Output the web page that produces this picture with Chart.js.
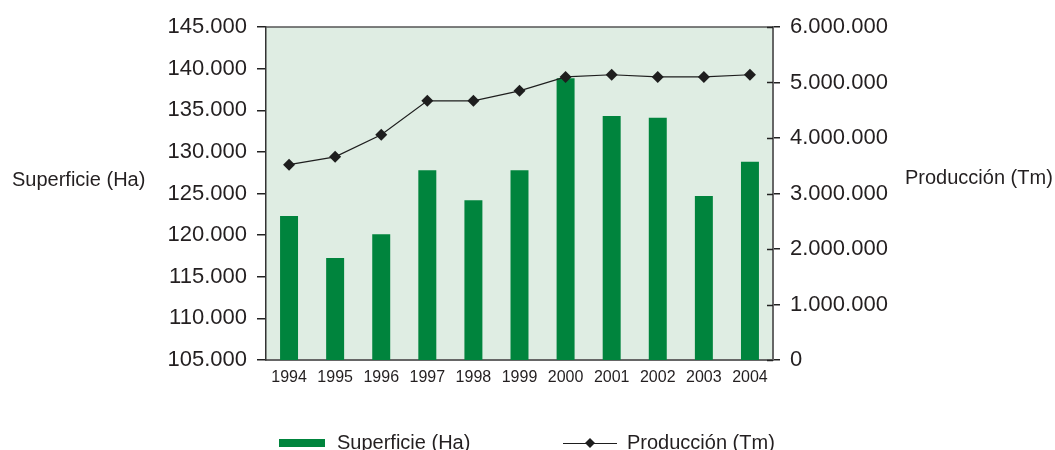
<!DOCTYPE html>
<html>
<head>
<meta charset="utf-8">
<script src="https://cdn.jsdelivr.net/npm/chart.js@4/dist/chart.umd.min.js"></script>
<style>
  html, body { margin: 0; padding: 0; background: #fff; overflow: hidden; }
  #wrap { width: 1055px; height: 450px; position: relative; }
</style>
</head>
<body>
<div id="wrap"><canvas id="chart"></canvas></div>
<script>
const years = ['1994', '1995', '1996', '1997', '1998', '1999', '2000', '2001', '2002', '2003', '2004'];
const superficie = [122300, 117250, 120100, 127800, 124200, 127800, 138850, 134300, 134100, 124700, 128800];
const produccion = [3520000, 3660000, 4060000, 4670000, 4670000, 4850000, 5100000, 5140000, 5100000, 5100000, 5140000];

const leftTitle = 'Superficie (Ha)';
const rightTitle = 'Producción (Tm)';

const FONT = "'Liberation Sans', Arial, sans-serif";
const TEXT = '#231f20';
const GREEN = '#00843d';
const LINE = '#1e1e1e';

function fmt(v) {
    return String(v).replace(/\B(?=(\d{3})+(?!\d))/g, '.');
}

// fondo del area, borde superior, ticks interiores del eje derecho, titulos y leyenda
const extras = {
    id: 'extras',
    beforeDraw(chart) {
        const {ctx, chartArea: a} = chart;
        ctx.save();
        ctx.fillStyle = '#dfede3';
        ctx.fillRect(a.left, a.top, a.right - a.left, a.bottom - a.top);
        ctx.restore();
    },
    afterDraw(chart) {
        const {ctx, chartArea: a} = chart;
        const y1 = chart.scales.y1;
        ctx.save();
        ctx.strokeStyle = '#555';
        ctx.lineWidth = 1.5;
        ctx.beginPath();
        ctx.moveTo(a.left, a.top);
        ctx.lineTo(a.right, a.top);
        ctx.stroke();

        ctx.strokeStyle = '#222';
        ctx.lineWidth = 1.5;
        y1.ticks.forEach(t => {
            const py = Math.round(y1.getPixelForValue(t.value)) + 0.5;
            ctx.beginPath();
            ctx.moveTo(a.right - 6, py);
            ctx.lineTo(a.right, py);
            ctx.stroke();
        });

        ctx.fillStyle = TEXT;
        ctx.font = '20px ' + FONT;
        ctx.textBaseline = 'alphabetic';
        ctx.textAlign = 'left';
        ctx.fillText(leftTitle, 12, 186);
        ctx.fillText(rightTitle, 905, 184);

        // leyenda
        const ly = 443;
        ctx.fillStyle = GREEN;
        ctx.fillRect(279, ly - 4, 46, 8);
        ctx.fillStyle = TEXT;
        ctx.fillText(chart.data.datasets[0].label, 337, 449);

        ctx.strokeStyle = LINE;
        ctx.lineWidth = 1.2;
        ctx.beginPath();
        ctx.moveTo(563, ly + 0.5);
        ctx.lineTo(617, ly + 0.5);
        ctx.stroke();
        ctx.fillStyle = LINE;
        ctx.beginPath();
        ctx.moveTo(590, ly - 5);
        ctx.lineTo(595, ly);
        ctx.lineTo(590, ly + 5);
        ctx.lineTo(585, ly);
        ctx.closePath();
        ctx.fill();
        ctx.fillStyle = TEXT;
        ctx.fillText(chart.data.datasets[1].label, 627, 449);
        ctx.restore();
    }
};

new Chart(document.getElementById('chart'), {
    data: {
        labels: years,
        datasets: [
            {
                type: 'bar',
                label: leftTitle,
                data: superficie,
                yAxisID: 'y',
                backgroundColor: GREEN,
                barPercentage: 0.39,
                categoryPercentage: 1,
                order: 2
            },
            {
                type: 'line',
                label: rightTitle,
                data: produccion,
                yAxisID: 'y1',
                borderColor: LINE,
                borderWidth: 1.2,
                backgroundColor: LINE,
                pointStyle: 'rectRot',
                pointRadius: 6,
                pointBorderWidth: 0,
                tension: 0,
                order: 1
            }
        ]
    },
    options: {
        responsive: true,
        maintainAspectRatio: false,
        animation: false,
        layout: { padding: { top: 27, left: 0, right: 0, bottom: 0 } },
        plugins: {
            legend: { display: false },
            tooltip: { enabled: false }
        },
        scales: {
            x: {
                offset: true,
                grid: { display: false, drawTicks: false },
                border: { display: true, color: '#666', width: 2 },
                ticks: { color: TEXT, font: { family: FONT, size: 16 }, padding: 8, maxRotation: 0 },
                afterFit(scale) { scale.height = 90; }
            },
            y: {
                position: 'left',
                min: 105000,
                max: 145000,
                grid: { drawOnChartArea: false, drawTicks: true, tickLength: 9, color: '#222', lineWidth: 1.5 },
                border: { display: true, color: '#333', width: 1.5 },
                ticks: {
                    stepSize: 5000,
                    color: TEXT,
                    font: { family: FONT, size: 22 },
                    padding: 10,
                    callback: v => fmt(v)
                },
                afterFit(scale) { scale.width = 266; }
            },
            y1: {
                position: 'right',
                min: 0,
                max: 6000000,
                grid: { drawOnChartArea: false, drawTicks: true, tickLength: 7, color: '#222', lineWidth: 1.5 },
                border: { display: true, color: '#666', width: 2 },
                ticks: {
                    stepSize: 1000000,
                    color: TEXT,
                    font: { family: FONT, size: 22 },
                    padding: 10,
                    callback: v => fmt(v)
                },
                afterFit(scale) { scale.width = 282; }
            }
        }
    },
    plugins: [extras]
});
</script>
</body>
</html>
